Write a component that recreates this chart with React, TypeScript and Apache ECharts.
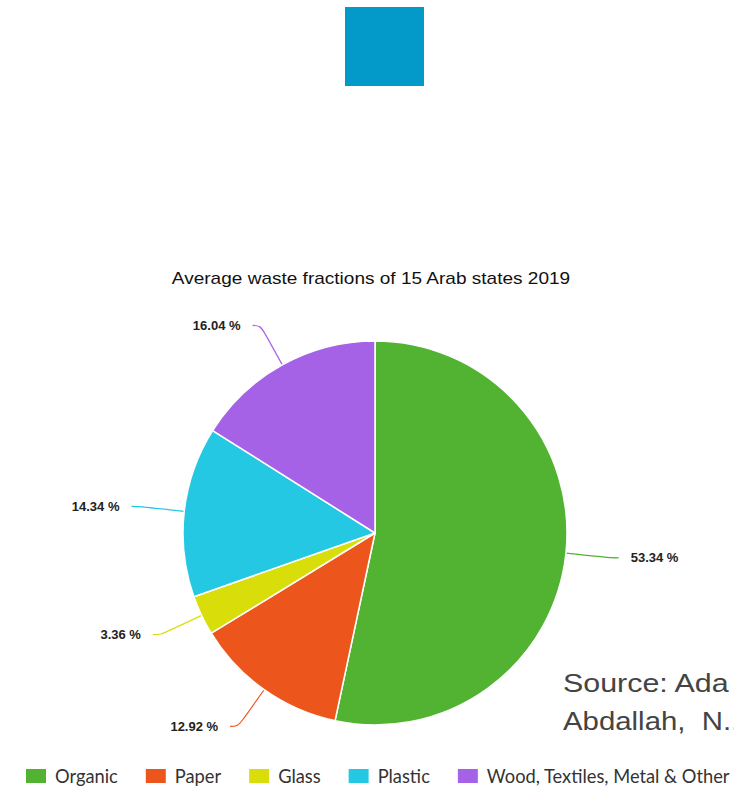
import React, { useEffect, useRef } from "react";
import * as echarts from "echarts";

const categories = ["Organic", "Paper", "Glass", "Plastic", "Wood, Textiles, Metal & Other"];
const values = [53.34, 12.92, 3.36, 14.34, 16.04];
const colors = ["#52B333", "#EC561C", "#D9DE0B", "#24C8E3", "#A662E6"];
const title = "Average waste fractions of 15 Arab states 2019";
const sourceLines = ["Source: Ada", "Abdallah,  N.."];

export default function App() {
  const ref = useRef<HTMLDivElement>(null);
  useEffect(() => {
    document.body.style.margin = "0";
    const chart = echarts.init(ref.current!, null, { renderer: "svg" });
    chart.setOption({
      animation: false,
      backgroundColor: "#ffffff",
      legend: {
        top: 762,
        left: 24,
        padding: [5, 0],
        itemWidth: 22,
        itemHeight: 16,
        itemGap: 26,
        icon: "rect",
        textStyle: { fontFamily: "Lato", fontSize: 18.3, color: "#333", padding: [0, 0, 0, 3] },
        data: categories,
      },
      graphic: [
        { type: "rect", shape: { x: 345, y: 7, width: 79, height: 79 }, style: { fill: "#0399C8" } },
        {
          type: "text",
          x: 371,
          y: 287,
          scaleX: 1.12,
          style: {
            text: title,
            font: "17px Liberation Sans, Arial",
            fill: "#111",
            textAlign: "center",
            textVerticalAlign: "bottom",
          },
        },
        {
          type: "text",
          x: 563,
          y: 696,
          scaleX: 1.17,
          style: {
            text: sourceLines[0],
            font: "26px Liberation Sans, Arial",
            fill: "#444",
            textVerticalAlign: "bottom",
          },
        },
        {
          type: "text",
          x: 563,
          y: 734,
          scaleX: 1.13,
          style: {
            text: sourceLines[1],
            font: "26px Liberation Sans, Arial",
            fill: "#444",
            textVerticalAlign: "bottom",
          },
        },
      ],
      series: [
        {
          type: "pie",
          center: [375, 533],
          radius: 192,
          startAngle: 90,
          clockwise: true,
          color: colors,
          itemStyle: { borderColor: "#fff", borderWidth: 1.5 },
          label: {
            formatter: (p: any) => p.value.toFixed(2) + " %",
            fontFamily: "Liberation Sans, Arial",
            fontWeight: "bold",
            fontSize: 13,
            color: "#222",
            distanceToLabelLine: 12,
          },
          labelLine: { length: 45, length2: 8, smooth: 0.4, lineStyle: { width: 1.2 } },
          data: categories.map((c, i) => ({ name: c, value: values[i] })),
        },
      ],
    });
    return () => chart.dispose();
  }, []);
  return <div ref={ref} style={{ width: 734, height: 787 }} />;
}
